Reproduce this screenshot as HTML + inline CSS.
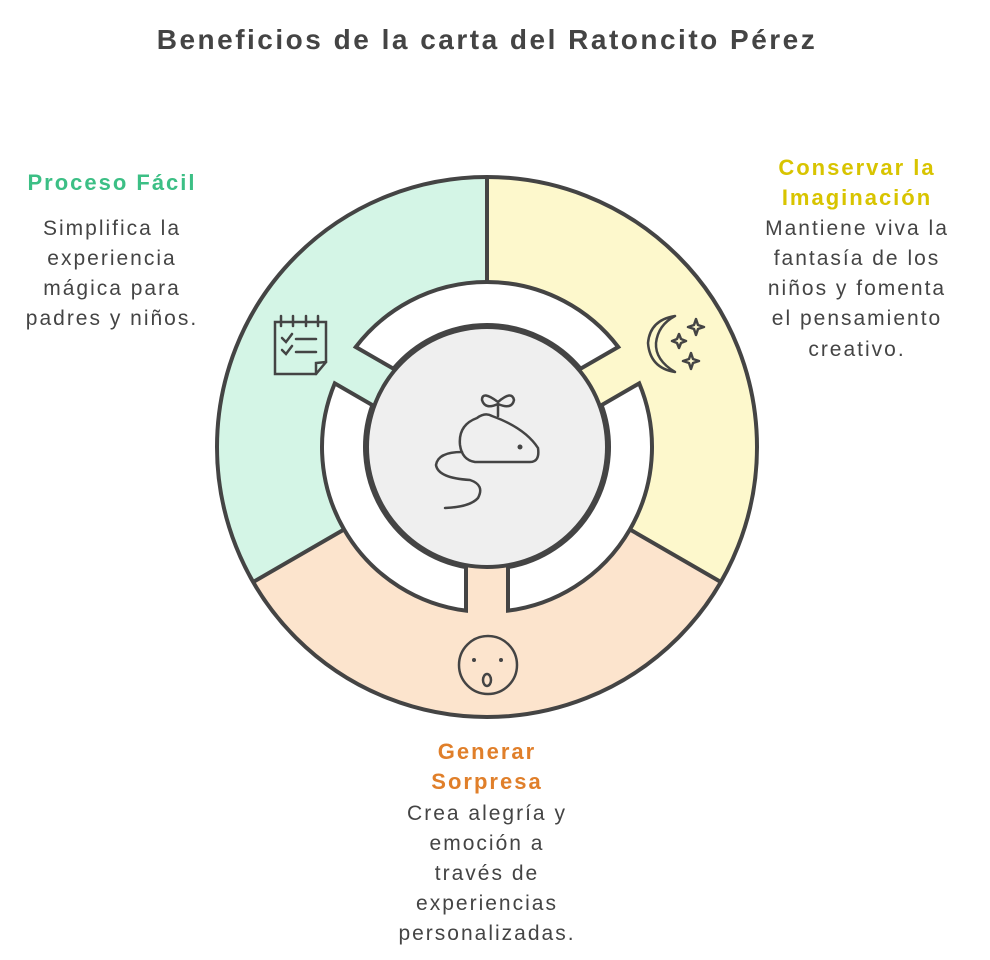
<!DOCTYPE html>
<html><head><meta charset="utf-8"><style>
html,body{margin:0;padding:0;background:#fff;width:990px;height:960px;overflow:hidden}
svg{display:block}
text{font-family:"Liberation Sans",sans-serif;fill:#444}
.h{font-weight:bold;font-size:22px;letter-spacing:2px}
.b{font-size:21px;letter-spacing:2px}
</style></head><body>
<svg width="990" height="960" viewBox="0 0 990 960">
<text x="487" y="49" text-anchor="middle" font-weight="bold" font-size="28" letter-spacing="2.5">Beneficios de la carta del Ratoncito Pérez</text>
<path d="M487 447 L487 177 A270 270 0 0 0 253.17 582 Z" fill="#d4f5e6"/>
<path d="M487 447 L487 177 A270 270 0 0 1 720.83 582 Z" fill="#fdf8cc"/>
<path d="M487 447 L253.17 582 A270 270 0 0 0 720.83 582 Z" fill="#fce4cd"/>
<circle cx="487" cy="447" r="270" fill="none" stroke="#444" stroke-width="4"/>
<g stroke="#444" stroke-width="4">
<line x1="487" y1="177" x2="487" y2="282"/>
<line x1="253.17" y1="582" x2="344" y2="529.5"/>
<line x1="720.83" y1="582" x2="630" y2="529.5"/>
</g>
<g fill="#fff" stroke="#444" stroke-width="4" stroke-linejoin="miter">
<path d="M466 610.66 A165 165 0 0 1 334.77 383.36 L372.42 405.1 A122 122 0 0 0 466 567.18 Z"/>
<path d="M355.77 346.98 A165 165 0 0 1 618.23 346.98 L580.58 368.72 A122 122 0 0 0 393.42 368.72 Z"/>
<path d="M639.23 383.36 A165 165 0 0 1 508 610.66 L508 567.18 A122 122 0 0 0 601.58 405.1 Z"/>
</g>
<circle cx="487" cy="447" r="120" fill="#efefef" stroke="#444" stroke-width="4"/>
<g fill="none" stroke="#444" stroke-width="2.5" stroke-linecap="round">
<path d="M477 418 Q485 412 492 416 Q525 428 538 448 Q540 462 530 462 L475 462 Q462 460 460 445 Q458 425 477 418 Z"/>
<path d="M498 416 L498 404"/>
<path d="M498 404 Q485 410 482 400 Q482 390 498 402 Q512 390 514 400 Q512 410 498 404"/>
<path d="M462 452 Q438 452 436 465 Q438 478 470 480 Q485 485 478 498 Q470 507 445 508"/>
</g>
<circle cx="520" cy="447" r="2.5" fill="#444"/>
<g fill="none" stroke="#444" stroke-width="2.5" stroke-linecap="round">
<path d="M275 322 L326 322 L326 362 L316 374 L275 374 Z"/>
<path d="M316 374 L316 363 L326 362"/>
<path d="M281 316 V326 M293 316 V326 M306 316 V326 M318 316 V326"/>
<path d="M282 338 L286 342 L292 334 M296 339 H316 M282 350 L286 354 L292 346 M296 352 H316"/>
</g>
<g fill="none" stroke="#444" stroke-width="2.5" stroke-linejoin="round">
<path d="M675 316 Q650 320 648 343 Q650 368 675 372 Q655 360 656 343 Q658 325 675 316 Z"/>
<path d="M696 319 l2 6 6 2 -6 2 -2 6 -2 -6 -6 -2 6 -2 Z"/>
<path d="M679 334 l2 5 5 2 -5 2 -2 5 -2 -5 -5 -2 5 -2 Z"/>
<path d="M691 353 l2 6 6 2 -6 2 -2 6 -2 -6 -6 -2 6 -2 Z"/>
</g>
<g fill="none" stroke="#444" stroke-width="2.5">
<circle cx="488" cy="665" r="29"/>
<ellipse cx="487" cy="680" rx="4" ry="6"/>
</g>
<circle cx="474" cy="660" r="2" fill="#444"/><circle cx="501" cy="660" r="2" fill="#444"/>
<text class="h" x="112" y="190" text-anchor="middle" style="fill:#3cbf85">Proceso Fácil</text>
<text class="b" x="112" y="235" text-anchor="middle">Simplifica la</text>
<text class="b" x="112" y="265" text-anchor="middle">experiencia</text>
<text class="b" x="112" y="295" text-anchor="middle">mágica para</text>
<text class="b" x="112" y="325" text-anchor="middle">padres y niños.</text>
<text class="h" x="857" y="175" text-anchor="middle" style="fill:#d8c400">Conservar la</text>
<text class="h" x="857" y="205" text-anchor="middle" style="fill:#d8c400">Imaginación</text>
<text class="b" x="857" y="235" text-anchor="middle">Mantiene viva la</text>
<text class="b" x="857" y="265" text-anchor="middle">fantasía de los</text>
<text class="b" x="857" y="295" text-anchor="middle">niños y fomenta</text>
<text class="b" x="857" y="325" text-anchor="middle">el pensamiento</text>
<text class="b" x="857" y="356" text-anchor="middle">creativo.</text>
<text class="h" x="487" y="759" text-anchor="middle" style="fill:#e07f2a">Generar</text>
<text class="h" x="487" y="789" text-anchor="middle" style="fill:#e07f2a">Sorpresa</text>
<text class="b" x="487" y="820" text-anchor="middle">Crea alegría y</text>
<text class="b" x="487" y="850" text-anchor="middle">emoción a</text>
<text class="b" x="487" y="880" text-anchor="middle">través de</text>
<text class="b" x="487" y="910" text-anchor="middle">experiencias</text>
<text class="b" x="487" y="940" text-anchor="middle">personalizadas.</text>
</svg>
</body></html>
